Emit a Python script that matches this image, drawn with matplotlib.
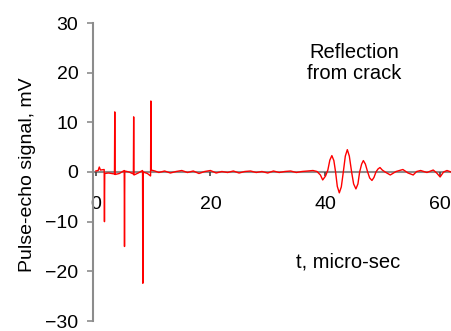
import matplotlib
matplotlib.use("Agg")
import matplotlib.pyplot as plt

plt.rcParams['font.family'] = ['Liberation Sans', 'DejaVu Sans']

# trace: time in micro-sec, signal in mV
t_us = [0.0, 0.4, 0.6, 0.8, 1.45, 1.5, 1.55, 2.2, 3.25, 3.3, 3.35, 4.1,
        4.95, 5.0, 5.05, 5.8, 6.55, 6.6, 6.65, 7.4, 8.15, 8.2, 8.25, 9.0,
        9.55, 9.6, 9.65, 10.3, 11.0, 12.0, 13.0, 14.0, 15.0, 16.0, 17.0, 18.0,
        19.0, 20.0, 21.0, 22.0, 23.0, 24.0, 25.0, 26.0, 27.0, 28.0, 29.0, 30.0,
        31.0, 32.0, 33.0, 34.0, 35.0, 36.0, 37.0, 37.9, 38.6, 39.2, 39.6, 40.1,
        40.5, 40.85, 41.2, 41.55, 41.85, 42.15, 42.5, 42.85, 43.2, 43.55, 43.9, 44.25,
        44.65, 45.0, 45.4, 45.75, 46.05, 46.4, 46.7, 47.05, 47.45, 47.8, 48.2, 48.55,
        48.9, 49.25, 49.6, 50.0, 50.5, 51.4, 52.4, 53.6, 54.5, 55.4, 56.0, 56.7,
        57.8, 58.9, 59.5, 60.1, 60.7, 61.3, 62.0]
signal_mv = [0.2, 0.3, 1.0, 0.4, 0.5, -10.0, -0.3, -0.2, -0.4, 12.1, -0.5, -0.3,
             0.3, -15.0, 0.2, 0.0, -0.4, 11.1, -0.6, -0.2, 0.3, -22.4, 0.0, -0.3,
             -0.8, 14.3, 0.4, 0.2, -0.1, 0.2, -0.2, 0.1, 0.3, -0.1, 0.2, -0.3,
             0.1, 0.3, -0.2, 0.1, -0.1, 0.2, -0.2, 0.1, 0.2, -0.1, 0.1, -0.2,
             0.2, -0.1, 0.1, 0.2, -0.1, 0.1, 0.2, 0.3, 0.1, -0.6, -1.6, -0.8,
             0.4, 2.4, 3.3, 2.3, 0.0, -2.9, -4.2, -3.0, 0.0, 3.2, 4.5, 3.2,
             0.0, -2.4, -3.4, -2.4, 0.0, 1.6, 2.3, 1.6, 0.0, -1.2, -1.7, -1.1,
             0.0, 0.6, 0.9, 0.4, 0.0, -0.6, 0.1, 0.5, -0.2, -0.6, 0.1, 0.3,
             -0.1, 0.4, -0.2, -1.0, 0.0, 0.3, 0.0]

x_ticks = [0, 20, 40, 60]
y_ticks = [-30, -20, -10, 0, 10, 20, 30]
axis_grey = '#8c8c8c'

fig = plt.figure(figsize=(4.51, 3.31), dpi=100)
ax = fig.add_axes([93 / 451, 10 / 331, 358 / 451, 298 / 331])

ax.plot(t_us, signal_mv, color='red', linewidth=1.0)

ax.set_xlim(-0.5, 62)
ax.set_ylim(-30, 30)
ax.set_xticks(x_ticks)
ax.set_yticks(y_ticks)

for side in ['top', 'right']:
    ax.spines[side].set_visible(False)
ax.spines['bottom'].set_position(('data', 0))
ax.spines['bottom'].set_color(axis_grey)
ax.spines['left'].set_color(axis_grey)
ax.spines['bottom'].set_linewidth(1.5)
ax.spines['left'].set_linewidth(1.5)
ax.spines['bottom'].set_zorder(1)

ax.tick_params(axis='x', direction='out', length=3, width=1.2, color='#444444',
               pad=14, labelsize=14)
ax.tick_params(axis='y', direction='out', length=4.5, width=1.2, color=axis_grey,
               pad=6, labelsize=14)

ax.set_ylabel('Pulse-echo signal, mV', fontsize=14)
ax.yaxis.set_label_coords(-0.158, 0.49)

ax.text(45.1, 21.9, 'Reflection\nfrom crack', ha='center', va='center',
        fontsize=14.5, linespacing=1.1)
ax.text(44.0, -18.1, 't, micro-sec', ha='center', va='center', fontsize=14.5)

plt.savefig('out.png', dpi=100)
plt.close()
